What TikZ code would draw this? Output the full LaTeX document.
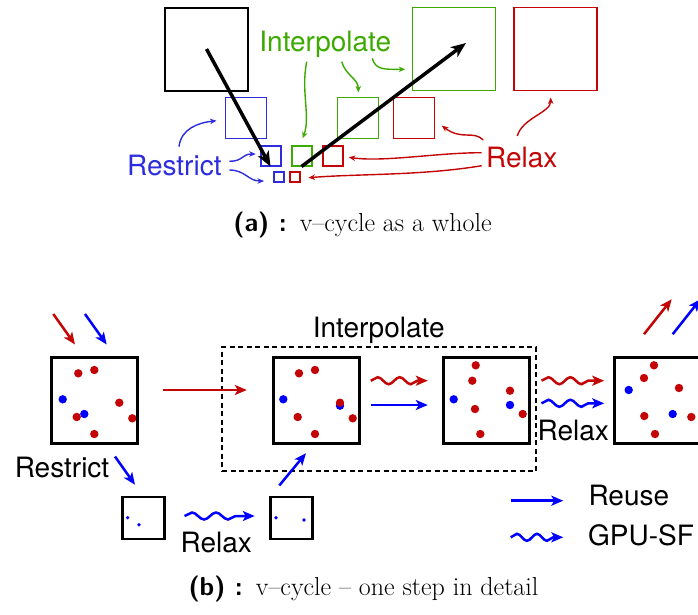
\documentclass[tikz,border=0pt]{standalone}
\usepackage{fontspec}
\newfontfamily\helv{TeX Gyre Heros}
\usetikzlibrary{arrows.meta,decorations.pathmorphing,calc}

\definecolor{rlxred}{RGB}{195,5,5}
\definecolor{rstblue}{RGB}{45,45,222}
\definecolor{intgreen}{RGB}{60,170,0}
\definecolor{ptblue}{RGB}{0,0,255}

\tikzset{
  sq/.style={draw, inner sep=0pt, minimum size=#1},
  lbl/.style={font=\helv\fontsize{28}{30}\selectfont, inner sep=0pt, anchor=base},
  captext/.style={font=\fontsize{26}{30}\selectfont, inner sep=0pt, anchor=base},
  note arr/.style={-{Stealth[length=6.5pt,width=5.5pt]}, line width=1.4pt},
  big arr/.style={-{Stealth[length=15pt,width=12pt,inset=4pt]}, line width=3.5pt},
  fat arr/.style={-{Stealth[length=12pt,width=10pt,inset=3pt]}, line width=2.5pt},
  wave/.style={decorate, decoration={snake, segment length=#1, amplitude=3.5pt, post length=8pt}},
  wave/.default=22pt
}

\begin{document}
\begin{tikzpicture}[x=1pt,y=-1pt]
  \useasboundingbox (0,0) rectangle (698,614);
  \clip (0,0) rectangle (698,614);

  % (a) the whole v-cycle
  \node[sq=83pt, line width=2pt] (blk) at (206.5,49) {};
  \node[sq=41pt, line width=1.7pt, draw=rstblue] (bmed) at (246,118) {};
  \node[sq=20pt, line width=2pt, draw=rstblue] (bsm) at (270.5,155.5) {};
  \node[sq=10pt, line width=2pt, draw=rstblue] (btiny) at (278.5,176.5) {};
  \node[sq=20pt, line width=2pt, draw=intgreen] (gsm) at (301.5,155.5) {};
  \node[sq=10pt, line width=1.8pt, draw=rlxred] (rtiny) at (294.8,176.8) {};
  \node[sq=20pt, line width=2pt, draw=rlxred] (rsm) at (333.3,155.5) {};
  \node[sq=41pt, line width=1.7pt, draw=intgreen] (gmed) at (358,118) {};
  \node[sq=41pt, line width=1.7pt, draw=rlxred] (rmed) at (414,118) {};
  \node[sq=83pt, line width=1.6pt, draw=intgreen] (gbig) at (454,49) {};
  \node[sq=83pt, line width=1.6pt, draw=rlxred] (rbig) at (555.5,49) {};

  \node[lbl, text=intgreen] (ilab) at (325.3,51.7) {Interpolate};
  \node[lbl, text=rstblue] (rlab) at (174.3,175.7) {Restrict};
  \node[lbl, text=rlxred] (xlab) at (521.7,167.7) {Relax};

  \draw[big arr] (blk.center) -- (bsm.south);
  \draw[big arr] (gsm.south) -- ($(gbig.center)+(12,-6)$);

  \draw[note arr, intgreen] ($(ilab.base)+(-18.6,10)$) .. controls +(-6,30) and +(8,-22) .. ($(gsm.north)+(1.2,-6.2)$);
  \draw[note arr, intgreen] ($(ilab.base)+(16.4,10)$) .. controls +(4,14) and +(0,-14) .. ($(gmed.north)+(0.3,-4.2)$);
  \draw[note arr, intgreen] ($(ilab.base)+(47,6.6)$) .. controls +(3,12) and +(-20,0) .. ($(gbig.west)+(-6.5,20.3)$);

  \draw[note arr, rstblue] ($(rlab.base)+(4.7,-29)$) .. controls +(2,-18) and +(-18,2) .. ($(bmed.west)+(-8.2,2.7)$);
  \draw[note arr, rstblue] ($(rlab.base)+(55,-14.4)$) .. controls +(14,0) and +(-14,0) .. ($(bsm.west)+(-3.8,-1.5)$);
  \draw[note arr, rstblue] ($(rlab.base)+(55,-5.7)$) .. controls +(16,0) and +(-16,0) .. ($(btiny.west)+(-8.5,4.5)$);

  \draw[note arr, rlxred] ($(xlab.base)+(-38.4,-27.7)$) .. controls +(-10,-10) and +(20,15) .. ($(rmed.east)+(6.5,7.7)$);
  \draw[note arr, rlxred] ($(xlab.base)+(-4.4,-31.7)$) .. controls +(5,-18) and +(0,15) .. ($(rbig.south)+(-4.8,6.2)$);
  \draw[note arr, rlxred] ($(xlab.base)+(-40,-15)$) .. controls +(-45,0) and +(35,5) .. ($(rsm.east)+(4.5,1.8)$);
  \draw[note arr, rlxred] ($(xlab.base)+(-40,-2)$) .. controls +(-60,10) and +(50,-4) .. ($(rtiny.east)+(7.9,0.9)$);

  \node[captext] (capa) at (362.5,231.7) {\textsf{\bfseries (a) :}\enspace v--cycle as a whole};

  % (b) one step in detail
  \node[sq=124pt, minimum width=314pt, line width=1.2pt, dash pattern=on 5pt off 3.5pt] (intbox) at (379,409) {};
  \node[lbl] (intlab) at (378.7,337.7) {Interpolate};

  \node[sq=86pt, line width=3pt] (box1) at (94.7,400.5) {};
  \node[sq=86pt, line width=3pt] (box2) at (316,400.5) {};
  \node[sq=86pt, line width=3pt] (box3) at (486,400.5) {};
  \node[sq=86pt, line width=3pt] (box4) at (657.5,400.5) {};
  \node[sq=42pt, line width=2.5pt] (sbox1) at (143.5,518) {};
  \node[sq=42pt, line width=2.5pt] (sbox2) at (291.7,518) {};

  \fill[ptblue] (62.7,399.3) circle (4.2pt) (84.3,414) circle (4.2pt);
  \fill[rlxred] (78.3,373.3) circle (4.2pt) (94.3,370) circle (4.2pt) (119.3,402.7) circle (4.2pt)
    (132.3,418.3) circle (4.2pt) (76.7,417) circle (4.2pt) (94.3,434) circle (4.2pt);
  \fill[ptblue] (283.3,399.3) circle (4.2pt) (340,405.7) circle (4.2pt);
  \fill[rlxred] (299,373.3) circle (4.2pt) (315,370) circle (4.2pt) (340,402.7) circle (4.2pt)
    (352.7,418.3) circle (4.2pt) (297.7,417) circle (4.2pt) (315,434) circle (4.2pt);
  \fill[ptblue] (453.7,399.3) circle (4.2pt) (510,405) circle (4.2pt);
  \fill[rlxred] (475.7,365.3) circle (4.2pt) (472.3,380.7) circle (4.2pt) (510,390.7) circle (4.2pt)
    (475,409) circle (4.2pt) (522.7,414) circle (4.2pt) (480.3,434) circle (4.2pt);
  \fill[ptblue] (628.7,390) circle (4.2pt) (672.7,414) circle (4.2pt);
  \fill[rlxred] (654,365.3) circle (4.2pt) (644,378) circle (4.2pt) (679,388) circle (4.2pt)
    (644.3,416) circle (4.2pt) (691.3,417) circle (4.2pt) (655,434) circle (4.2pt);
  \fill[ptblue] (127.7,517.7) circle (1.8pt) (139,524.7) circle (1.8pt);
  \fill[ptblue] (276,517.7) circle (1.8pt) (304,520) circle (1.8pt);

  \node[lbl] (rstlab) at (62,477.7) {Restrict};
  \node[lbl] (rlxlow) at (216.2,552.7) {Relax};
  \node[lbl] (rlxhigh) at (573.3,440) {Relax};
  \node[lbl, anchor=base west] (reuse) at (588.3,505) {Reuse};
  \node[lbl, anchor=base west] (gpusf) at (588,545) {GPU-SF};

  \coordinate (inred) at (53.3,314);
  \coordinate (inblue) at (85,314);
  \draw[fat arr, rlxred] (inred) -- ($(box1.north)+(-19.7,-11.5)$);
  \draw[fat arr, ptblue] (inblue) -- ($(box1.north)+(12,-11.5)$);
  \draw[fat arr, rlxred] ($(box1.east)+(23.3,-10.5)$) -- ($(box2.west)+(-24.7,-10.5)$);
  \draw[fat arr, ptblue] ($(box1.south)+(20.3,11.5)$) -- ($(sbox1.north)+(-8.5,-11)$);
  \draw[fat arr, ptblue, wave=24pt] ($(sbox1.east)+(18.8,-2)$) -- ($(sbox2.west)+(-14.7,-2)$);
  \draw[fat arr, ptblue] ($(sbox2.north)+(-12.4,-10.3)$) -- ($(box2.south)+(-10,8.2)$);
  \draw[fat arr, rlxred, wave] ($(box2.east)+(10.3,-19.8)$) -- ($(box3.west)+(-13.7,-19.8)$);
  \draw[fat arr, ptblue] ($(box2.east)+(10.3,4.5)$) -- ($(box3.west)+(-13.7,4.5)$);
  \draw[fat arr, rlxred, wave] ($(box3.east)+(11,-19.8)$) -- ($(box4.west)+(-8.8,-19.8)$);
  \draw[fat arr, ptblue, wave] ($(box3.east)+(11,2.8)$) -- ($(box4.west)+(-8.8,2.8)$);
  \draw[fat arr, rlxred] ($(box4.north)+(-13.5,-21.8)$) -- ($(box4.north)+(14.2,-56.8)$);
  \draw[fat arr, ptblue] ($(box4.north)+(15.2,-21.8)$) -- ($(box4.north)+(42.9,-56.8)$);

  \coordinate (lgreuse) at (510.7,500.7);
  \coordinate (lgsf) at (510.7,537.3);
  \draw[fat arr, ptblue] (lgreuse) -- ($(reuse.base west)+(-25,-4.3)$);
  \draw[fat arr, ptblue, wave=20pt] (lgsf) -- ($(gpusf.base west)+(-24.7,-7.7)$);

  \node[captext] (capb) at (363.5,595) {\textsf{\bfseries (b) :}\enspace v--cycle -- one step in detail};
\end{tikzpicture}
\end{document}
